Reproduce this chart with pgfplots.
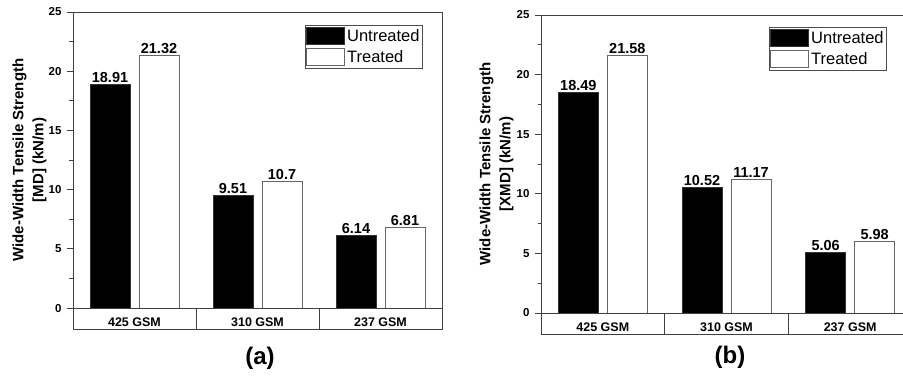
\documentclass[border=0pt]{standalone}
\usepackage{pgfplots}
\pgfplotsset{compat=1.18}
\usepackage{fontspec}
\setmainfont{Liberation Sans}

\pgfplotsset{
 mybar/.style={
  scale only axis,
  ybar=9pt,
  bar width=40pt,
  xmin=-0.5, xmax=2.5,
  ymax=25,
  xtick={0,1,2},
  xticklabels={425 GSM,310 GSM,237 GSM},
  x tick style={draw=none},
  xticklabel style={anchor=center, yshift=13pt, font=\fontsize{12.5}{14}\selectfont\bfseries},
  ytick={0,5,10,15,20,25},
  minor ytick={2.5,7.5,12.5,17.5,22.5},
  ytick pos=left,
  tick align=outside,
  major tick length=6pt, minor tick length=3.5pt,
  yticklabel style={font=\fontsize{11.5}{13}\selectfont\bfseries, xshift=-2pt},
  /pgf/number format/assume math mode=true,
  axis line style={black!75, line width=0.8pt},
  every tick/.style={black!75, line width=0.8pt},
  nodes near coords,
  every node near coord/.append style={font=\fontsize{14.5}{16}\selectfont\bfseries, black, inner sep=1.5pt},
  legend cell align=left,
  legend image code/.code={\draw[##1] (0pt,-8.5pt) rectangle (38pt,8.5pt);},
  legend style={draw=black!70, line width=0.8pt, font=\fontsize{16.5}{18}\selectfont, inner xsep=1pt, inner ysep=2pt, row sep=3pt},
  clip=false,
 },
 untreated/.style={fill=black, draw=black!80, line width=0.8pt},
 treated/.style={fill=white, draw=black!60, line width=0.8pt},
}

\begin{document}
\begin{tikzpicture}
\useasboundingbox (0,0) rectangle (903pt,376pt);
\clip (0,0) rectangle (903pt,376pt);

% ---------- Panel (a) ----------
\begin{axis}[mybar, at={(73pt,47pt)}, anchor=south west,
  width=369pt, height=317pt, ymin=-1.77,
  ylabel={Wide-Width Tensile Strength\\{[MD] (kN/m)}},
  ylabel style={align=center, font=\fontsize{15}{20}\selectfont\bfseries,
    at={(axis description cs:-0.118,0.533)}, anchor=center},
  legend style={at={(1,1)}, anchor=north east, xshift=-19pt, yshift=-13pt}]
\addplot[untreated] coordinates {(0,18.91) (1,9.51) (2,6.14)};
\addplot[treated] coordinates {(0,21.32) (1,10.7) (2,6.81)};
\legend{Untreated,Treated}
\draw[black!75, line width=0.8pt] (axis cs:-0.5,0) -- (axis cs:2.5,0);
\draw[black!75, line width=0.8pt] (axis cs:0.5,-1.77) -- (axis cs:0.5,0);
\draw[black!75, line width=0.8pt] (axis cs:1.5,-1.77) -- (axis cs:1.5,0);
\end{axis}
\node[font=\fontsize{24}{28}\selectfont\bfseries] at (260pt,18pt) {(a)};

% ---------- Panel (b) ----------
\begin{axis}[mybar, at={(541pt,42pt)}, anchor=south west,
  width=371pt, height=319pt, ymin=-1.76,
  ylabel={Wide-Width Tensile Strength\\{[XMD] (kN/m)}},
  ylabel style={align=center, font=\fontsize{15}{20}\selectfont\bfseries,
    at={(axis description cs:-0.12,0.533)}, anchor=center},
  legend style={at={(0,1)}, anchor=north west, xshift=228pt, yshift=-12pt}]
\addplot[untreated] coordinates {(0,18.49) (1,10.52) (2,5.06)};
\addplot[treated] coordinates {(0,21.58) (1,11.17) (2,5.98)};
\legend{Untreated,Treated}
\draw[black!75, line width=0.8pt] (axis cs:-0.5,0) -- (axis cs:2.5,0);
\draw[black!75, line width=0.8pt] (axis cs:0.5,-1.76) -- (axis cs:0.5,0);
\draw[black!75, line width=0.8pt] (axis cs:1.5,-1.76) -- (axis cs:1.5,0);
\end{axis}
\node[font=\fontsize{24}{28}\selectfont\bfseries] at (730pt,19pt) {(b)};
\end{tikzpicture}
\end{document}
